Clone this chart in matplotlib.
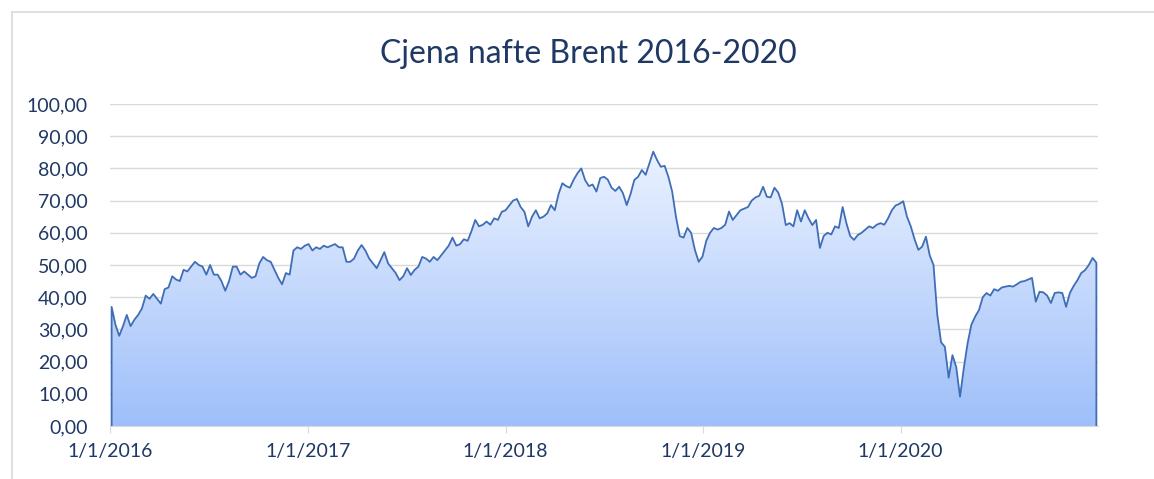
import matplotlib
matplotlib.use("Agg")
import matplotlib.pyplot as plt
import matplotlib.dates as mdates
from matplotlib.ticker import FuncFormatter, MultipleLocator
from matplotlib.lines import Line2D
from matplotlib.colors import LinearSegmentedColormap
import numpy as np
import pandas as pd

# Brent price, one value per week (Mondays)
brent_2016 = [37.0, 31.5, 28.0, 31.0,
              34.5, 31.0, 33.0, 34.5, 36.5,
              40.5, 39.5, 41.0, 39.5,
              38.0, 42.5, 43.0, 46.5,
              45.5, 45.0, 48.5, 48.0, 49.5,
              51.0, 50.0, 49.5, 47.0,
              50.0, 47.0, 47.0, 45.0,
              42.0, 45.0, 49.5, 49.5, 47.0,
              48.0, 47.0, 46.0, 46.5,
              50.5, 52.5, 51.5, 51.0, 48.5,
              46.0, 44.0, 47.5, 47.0,
              54.5, 55.5, 55.0, 56.0]
brent_2017 = [56.5, 54.5, 55.5, 55.0, 56.0,
              55.5, 56.0, 56.5, 55.5,
              55.5, 51.0, 51.0, 52.0,
              54.5, 56.2, 54.5, 52.0,
              50.5, 49.0, 51.5, 54.0, 50.5,
              49.0, 47.5, 45.3, 46.5,
              49.0, 46.9, 48.5, 49.5, 52.5,
              52.0, 51.0, 52.5, 51.5,
              53.0, 54.5, 56.0, 58.5,
              56.0, 56.5, 58.0, 57.5, 60.5,
              64.0, 62.0, 62.5, 63.5,
              62.5, 64.5, 64.0, 66.5]
brent_2018 = [67.0, 68.5, 70.0, 70.5, 68.0,
              66.5, 62.0, 65.0, 67.0,
              64.5, 65.0, 66.0, 68.6,
              67.0, 72.0, 75.4, 74.5, 74.0,
              76.5, 78.5, 80.0, 76.4,
              74.5, 75.0, 72.8, 77.0,
              77.4, 76.5, 74.0, 73.0, 74.3,
              72.3, 68.6, 72.0, 76.4,
              77.4, 79.5, 78.0, 81.6,
              85.2, 82.6, 80.5, 80.8, 77.4,
              72.8, 65.0, 59.0, 58.5,
              61.5, 60.0, 54.7, 51.0, 52.6]
brent_2019 = [57.5, 60.0, 61.5, 61.0,
              61.5, 62.5, 66.6, 64.0,
              65.5, 67.0, 67.5, 68.0,
              70.0, 71.0, 71.5, 74.3, 71.2,
              71.0, 74.0, 72.5, 69.0,
              62.4, 63.0, 62.0, 67.0,
              63.5, 67.0, 64.5, 62.4, 64.0,
              55.3, 59.0, 60.0, 59.5,
              62.0, 61.5, 68.0, 63.0, 59.0,
              57.8, 59.3, 60.0, 61.0,
              62.0, 61.5, 62.5, 63.0,
              62.5, 64.5, 67.0, 68.5, 69.0]
brent_2020 = [69.8, 65.0, 62.0, 58.0,
              54.7, 55.7, 58.8, 53.0,
              50.0, 34.5, 26.0, 24.6, 15.0,
              22.0, 18.3, 9.1, 18.0,
              25.7, 31.5, 34.0, 36.0,
              40.0, 41.3, 40.5, 42.5, 42.0,
              43.0, 43.3, 43.5, 43.3,
              44.0, 44.8, 45.0, 45.5, 46.0,
              38.6, 41.7, 41.5, 40.5,
              38.2, 41.3, 41.5, 41.3,
              37.0, 41.3, 43.5, 45.3, 47.5,
              48.4, 50.0, 52.2, 50.7]

prices = brent_2016 + brent_2017 + brent_2018 + brent_2019 + brent_2020
dates = pd.date_range("2016-01-04", periods=len(prices), freq="7D")
year_ticks = pd.to_datetime(["2016-01-01", "2017-01-01", "2018-01-01",
                             "2019-01-01", "2020-01-01"])

title = "Cjena nafte Brent 2016-2020"
navy = "#1f3864"
line_color = "#3f6eb6"
grid_color = "#d9d9d9"

plt.rcParams["font.family"] = ["Lato", "DejaVu Sans"]

fig = plt.figure(figsize=(11.54, 4.79), dpi=100)
ax = fig.add_axes([110 / 1154, 53 / 479, 988 / 1154, 322 / 479])

x0 = mdates.date2num(pd.Timestamp("2016-01-01"))
x1 = mdates.date2num(pd.Timestamp("2020-12-31"))

# gradient fill clipped to the area under the curve
fill = ax.fill_between(dates, prices, 0, color="none", linewidth=0)
cmap = LinearSegmentedColormap.from_list("fade", ["#9ebffa", "#ebf2ff"])
grad = np.linspace(0, 1, 256).reshape(-1, 1)
im = ax.imshow(grad, extent=[x0, x1, 0, max(prices)], origin="lower",
               aspect="auto", cmap=cmap, zorder=2)
im.set_clip_path(fill.get_paths()[0], ax.transData)

ax.plot([dates[0]] + list(dates) + [dates[-1]], [0] + prices + [0],
        color=line_color, linewidth=1.3, zorder=3)

ax.set_xlim(x0, x1)
ax.set_ylim(0, 100)
ax.yaxis.set_major_locator(MultipleLocator(10))
ax.yaxis.set_major_formatter(FuncFormatter(lambda v, p: f"{v:.2f}".replace(".", ",")))
ax.set_xticks(year_ticks)
ax.xaxis.set_major_formatter(FuncFormatter(
    lambda v, p: "{0.month}/{0.day}/{0.year}".format(mdates.num2date(v))))

ax.grid(axis="y", color=grid_color, linewidth=1)
ax.set_axisbelow(True)
for s in ["top", "right", "left"]:
    ax.spines[s].set_visible(False)
ax.spines["bottom"].set_color(grid_color)
ax.tick_params(axis="y", length=0, pad=16, labelsize=14, labelcolor=navy)
ax.tick_params(axis="x", length=5, color=grid_color, pad=7, labelsize=14, labelcolor=navy)

fig.text(0.5095, 1 - 54 / 479, title, ha="center", va="center",
         fontsize=23, color=navy)

# chart frame
fig.add_artist(Line2D([12 / 1154, 12 / 1154], [0, 1 - 12 / 479], color=grid_color, linewidth=1.2))
fig.add_artist(Line2D([12 / 1154, 1], [1 - 12 / 479, 1 - 12 / 479], color=grid_color, linewidth=1.2))

fig.savefig("out.png", dpi=100)
